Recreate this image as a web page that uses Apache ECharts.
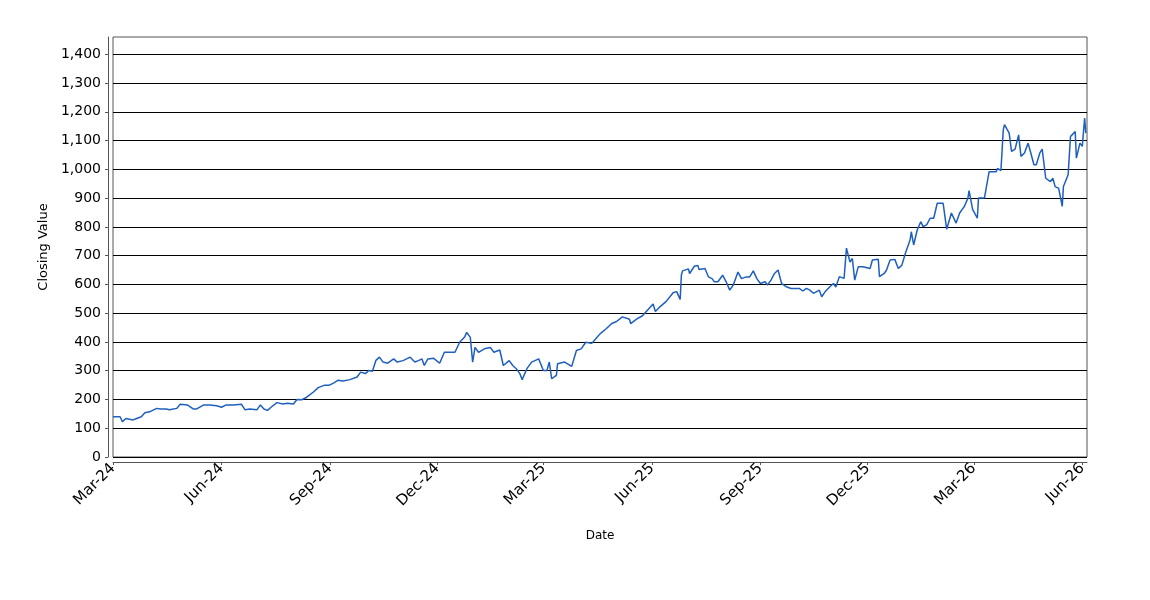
<!DOCTYPE html>
<html>
<head>
<meta charset="utf-8">
<script src="https://cdn.jsdelivr.net/npm/echarts@6/dist/echarts.min.js"></script>
<style>
html,body{margin:0;padding:0;background:#fff;}
#chart{width:1150px;height:600px;}
</style>
</head>
<body>
<div id="chart"></div>
<script>
// ---- data ----
const dates = [
'2024-03-01','2024-03-07','2024-03-09','2024-03-12','2024-03-18','2024-03-21','2024-03-25','2024-03-28',
'2024-04-01','2024-04-07','2024-04-10','2024-04-15','2024-04-18','2024-04-24','2024-04-27',
'2024-05-03','2024-05-08','2024-05-11','2024-05-17','2024-05-22','2024-05-28',
'2024-06-01','2024-06-05','2024-06-11','2024-06-18','2024-06-21','2024-06-25',
'2024-07-01','2024-07-04','2024-07-07','2024-07-10','2024-07-13','2024-07-18','2024-07-23','2024-07-27',
'2024-08-01','2024-08-04','2024-08-08','2024-08-12','2024-08-18','2024-08-22','2024-08-27','2024-08-31',
'2024-09-04','2024-09-08','2024-09-12','2024-09-18','2024-09-24','2024-09-27',
'2024-10-01','2024-10-04','2024-10-07','2024-10-10','2024-10-13','2024-10-16','2024-10-20','2024-10-25','2024-10-28',
'2024-11-02','2024-11-08','2024-11-12','2024-11-15','2024-11-18','2024-11-20','2024-11-23','2024-11-28',
'2024-12-03','2024-12-07','2024-12-11','2024-12-16','2024-12-20','2024-12-24','2024-12-26','2024-12-29','2024-12-31',
'2025-01-02','2025-01-05','2025-01-06','2025-01-10','2025-01-15','2025-01-18','2025-01-23','2025-01-26','2025-01-31',
'2025-02-03','2025-02-06','2025-02-09','2025-02-11','2025-02-15','2025-02-19','2025-02-25',
'2025-03-01','2025-03-04','2025-03-06','2025-03-08','2025-03-12','2025-03-13','2025-03-19','2025-03-25','2025-03-29',
'2025-04-02','2025-04-06','2025-04-11','2025-04-15','2025-04-18','2025-04-23','2025-04-28',
'2025-05-02','2025-05-07','2025-05-13','2025-05-14','2025-05-19','2025-05-24','2025-05-29',
'2025-06-02','2025-06-04','2025-06-08','2025-06-13','2025-06-19','2025-06-22','2025-06-25','2025-06-26','2025-06-27',
'2025-07-02','2025-07-03','2025-07-07','2025-07-10','2025-07-11','2025-07-16','2025-07-19','2025-07-22','2025-07-24','2025-07-27','2025-07-31',
'2025-08-03','2025-08-06','2025-08-09','2025-08-13','2025-08-16','2025-08-20','2025-08-23','2025-08-26','2025-08-29',
'2025-09-01','2025-09-05','2025-09-07','2025-09-10','2025-09-13','2025-09-16','2025-09-19','2025-09-23','2025-09-27',
'2025-10-01','2025-10-04','2025-10-07','2025-10-10','2025-10-13','2025-10-16','2025-10-21','2025-10-23','2025-10-26','2025-10-30',
'2025-11-02','2025-11-04','2025-11-07','2025-11-11','2025-11-13','2025-11-16','2025-11-18','2025-11-20','2025-11-23','2025-11-27',
'2025-12-03','2025-12-05','2025-12-10','2025-12-11','2025-12-15','2025-12-17','2025-12-20','2025-12-24','2025-12-27','2025-12-30',
'2026-01-02','2026-01-06','2026-01-07','2026-01-09','2026-01-12','2026-01-15','2026-01-17','2026-01-20','2026-01-23','2026-01-26','2026-01-29',
'2026-02-03','2026-02-06','2026-02-10','2026-02-14','2026-02-17','2026-02-21','2026-02-24','2026-02-25','2026-02-28',
'2026-03-04','2026-03-05','2026-03-10','2026-03-14','2026-03-20','2026-03-21','2026-03-24','2026-03-26','2026-03-27','2026-03-31',
'2026-04-02','2026-04-05','2026-04-08','2026-04-10','2026-04-13','2026-04-16','2026-04-18','2026-04-21','2026-04-23','2026-04-26','2026-04-28',
'2026-05-01','2026-05-05','2026-05-07','2026-05-09','2026-05-12','2026-05-15','2026-05-16','2026-05-20','2026-05-22','2026-05-26','2026-05-27','2026-05-30',
'2026-06-01','2026-06-03','2026-06-04'
];
const closingValues = [
140,140,123,134,129,134,140,154,
157,169,167,167,164,169,183,
181,167,167,181,181,178,
173,181,181,183,164,167,
164,181,167,162,173,189,184,187,
184,200,199,207,226,241,249,249,
257,267,264,269,278,295,
290,301,298,336,347,330,326,341,330,
335,347,330,335,341,318,341,343,
326,364,364,364,399,416,433,416,330,
381,364,359,376,381,364,372,318,335,
318,307,290,269,307,330,341,
301,301,330,272,284,324,330,315,370,
376,399,395,414,428,445,464,
471,487,479,464,479,491,514,
532,506,523,540,571,575,548,632,647,
654,638,663,666,652,655,626,620,609,609,632,
609,580,598,643,620,626,626,647,620,
603,609,598,615,638,650,603,592,586,
586,586,577,586,580,569,580,557,575,592,
603,591,627,621,726,678,690,615,661,661,
655,685,687,627,638,650,685,687,655,667,
708,755,783,737,789,818,801,807,830,830,882,
882,792,848,813,848,871,900,926,861,
830,900,900,992,992,1003,996,1137,1155,1126,
1062,1070,1120,1045,1057,1091,1062,1016,1016,1057,1070,
969,957,969,940,934,871,940,981,1114,1131,1039,1091,
1080,1178,1126
];
const xTickDates = ['2024-03-01','2024-06-01','2024-09-01','2024-12-01','2025-03-01','2025-06-01','2025-09-01','2025-12-01','2026-03-01','2026-06-01'];
const xTickLabels = ['Mar-24','Jun-24','Sep-24','Dec-24','Mar-25','Jun-25','Sep-25','Dec-25','Mar-26','Jun-26'];
const yTicks = [0,100,200,300,400,500,600,700,800,900,1000,1100,1200,1300,1400];
const xMin = '2024-03-01';
const xMax = '2026-06-05';
const yMax = 1460;

// ---- build ----
const ts = s => { const p = s.split('-'); return Date.UTC(+p[0], +p[1]-1, +p[2]); };
const seriesData = dates.map((d,i) => [ts(d), closingValues[i]]);
const xTickVals = xTickDates.map(ts);
const labelMap = {};
xTickVals.forEach((v,i) => { labelMap[v] = xTickLabels[i]; });

const FONT = 'DejaVu Sans';
const chart = echarts.init(document.getElementById('chart'), null, {renderer:'canvas'});
chart.setOption({
  animation: false,
  backgroundColor: '#ffffff',
  grid: {
    left: 113, right: 63, top: 37, bottom: 143,
    show: true, borderColor: '#555555', borderWidth: 1, backgroundColor: '#ffffff'
  },
  xAxis: {
    type: 'value',
    min: ts(xMin), max: ts(xMax),
    offset: 5,
    name: 'Date',
    nameLocation: 'middle',
    nameGap: 68,
    nameTextStyle: {fontFamily: FONT, fontSize: 12, color: '#000'},
    axisLine: {show: true, onZero: false, lineStyle: {color: '#555555', width: 1}},
    axisTick: {show: true, length: 3, customValues: xTickVals, lineStyle: {color: '#555555'}},
    axisLabel: {
      customValues: xTickVals,
      rotate: 45,
      margin: 4,
      fontFamily: FONT, fontSize: 15, color: '#000',
      formatter: v => labelMap[v] || ''
    },
    splitLine: {show: false}
  },
  yAxis: {
    type: 'value',
    min: 0, max: yMax,
    offset: 5,
    name: 'Closing Value',
    nameLocation: 'middle',
    nameGap: 56,
    nameTextStyle: {fontFamily: FONT, fontSize: 13, color: '#000'},
    axisLine: {show: true, onZero: false, lineStyle: {color: '#555555', width: 1}},
    axisTick: {show: true, length: 3, customValues: yTicks, lineStyle: {color: '#555555'}},
    axisLabel: {
      customValues: yTicks,
      margin: 7,
      fontFamily: FONT, fontSize: 14, color: '#000',
      formatter: v => Number(v).toLocaleString('en-US')
    },
    splitLine: {show: true, lineStyle: {color: '#000000', width: 1, type: 'solid'}}
  },
  series: [{
    type: 'line',
    data: seriesData,
    showSymbol: false,
    symbol: 'none',
    lineStyle: {color: '#1f5fbd', width: 1.5},
    itemStyle: {color: '#1f5fbd'},
    clip: true
  }]
});
</script>
</body>
</html>
